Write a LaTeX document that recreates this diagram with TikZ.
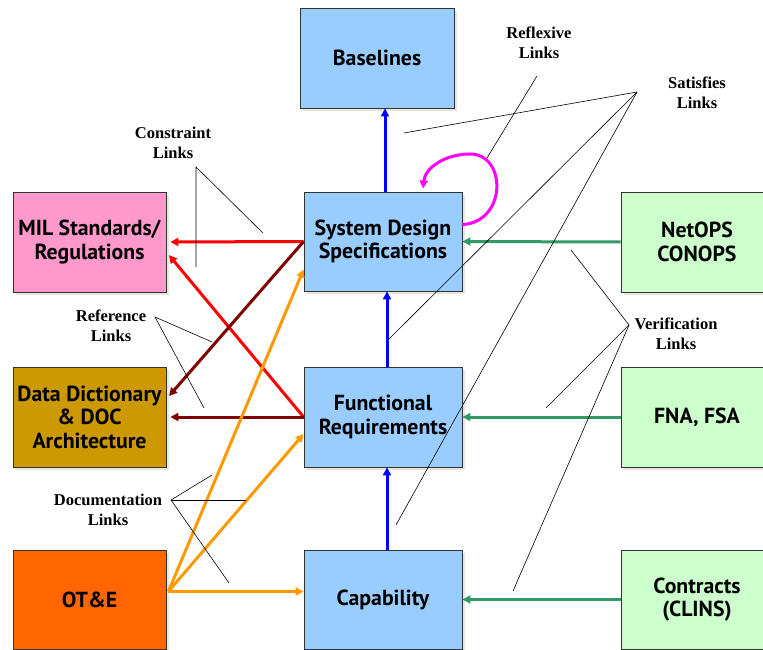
\documentclass[tikz,border=0pt]{standalone}
\usepackage{fontspec}
\newfontfamily\boxfont{PT Sans}
\newfontfamily\labfont{Liberation Serif}
\usetikzlibrary{arrows.meta,shadows}
\definecolor{bluefill}{HTML}{99CCFF}
\definecolor{pinkfill}{HTML}{FF99CC}
\definecolor{goldfill}{HTML}{CC9900}
\definecolor{orangefill}{HTML}{FF6600}
\definecolor{greenfill}{HTML}{CCFFCC}
\definecolor{boxborder}{HTML}{333333}
\definecolor{shadowcol}{HTML}{E8E5DA}
\definecolor{linkblue}{HTML}{0000FF}
\definecolor{linkred}{HTML}{FF0000}
\definecolor{linkdark}{HTML}{800000}
\definecolor{linkorange}{HTML}{FF9900}
\definecolor{linkgreen}{HTML}{339966}
\definecolor{linkmag}{HTML}{FF00FF}
\begin{document}
\begin{tikzpicture}[x=1pt,y=-1pt,
  box/.style={draw=boxborder, line width=0.8pt, minimum width=153pt, minimum height=100pt,
    inner sep=0pt, align=center, text=black,
    font=\boxfont\bfseries\fontsize{21.8}{23.5}\selectfont,
    drop shadow={shadow xshift=3pt, shadow yshift=-3pt, fill=shadowcol, opacity=1, draw=none}},
  lab/.style={align=center, inner sep=0pt, font=\labfont\bfseries\fontsize{16.5}{20}\selectfont},
  link/.style={line width=3pt, -{Triangle[length=8pt,width=8pt]}},
  callout/.style={line width=0.6pt, draw=black}]
\useasboundingbox (0,0) rectangle (763,650);

% boxes
\node[box, fill=bluefill, minimum width=154pt] (base) at (377,58) {Baselines};
\node[box, fill=bluefill, minimum width=158pt, minimum height=99pt] (sds) at (383,241.5) {System Design\\Specifications};
\node[box, fill=pinkfill] (mil) at (89.5,242) {MIL Standards/\\Regulations};
\node[box, fill=greenfill, minimum width=152pt] (netops) at (697,242) {NetOPS\\CONOPS};
\node[box, fill=goldfill] (dd) at (89.5,417) {Data Dictionary\\\& DOC\\Architecture};
\node[box, fill=bluefill, minimum width=158pt] (fr) at (383,417) {Functional\\Requirements};
\node[box, fill=greenfill, minimum width=152pt] (fna) at (697,417) {FNA, FSA};
\node[box, fill=orangefill, minimum height=99pt] (ote) at (89.5,599.5) {OT\&E};
\node[box, fill=bluefill, minimum width=158pt, minimum height=99pt] (cap) at (383,599.5) {Capability};
\node[box, fill=greenfill, minimum width=152pt, minimum height=99pt] (con) at (697,599.5) {Contracts\\(CLINS)};

% blue links
\draw[link, linkblue] ([xshift=2pt]sds.north) -- ([xshift=2pt]sds.north |- base.south);
\draw[link, linkblue] ([xshift=4pt]fr.north) -- ([xshift=4pt]fr.north |- sds.south);
\draw[link, linkblue] ([xshift=4pt]cap.north) -- ([xshift=4pt]cap.north |- fr.south);

% reflexive
\draw[line width=3pt, linkmag, -{Triangle[length=8pt,width=8pt]}]
  ([yshift=-33pt]sds.north east) .. controls (507,222) and (507,154) .. (470,154)
  .. controls (445,154) and (425,168) .. ([xshift=40pt,yshift=3pt]sds.north);

% constraint / reference links
\draw[link, linkred, shorten >=4pt] (sds.west) -- (mil.east);
\draw[link, linkred, shorten >=4pt] (fr.west) -- ([yshift=-10pt]mil.east);
\draw[link, linkdark, shorten >=4pt] (sds.west) -- ([yshift=18pt]dd.east);
\draw[link, linkdark, shorten >=4pt] (fr.west) -- (dd.east);

% documentation links
\coordinate (otestart) at ([xshift=2pt,yshift=8pt]ote.east);
\draw[link, linkorange] (otestart) -- ([yshift=-28pt]sds.west);
\draw[link, linkorange] (otestart) -- ([yshift=-17pt]fr.west);
\draw[link, linkorange] (otestart) -- ([yshift=8pt]cap.west);

% verification links
\draw[link, linkgreen] (netops.west) -- (sds.east);
\draw[link, linkgreen] (fna.west) -- (fr.east);
\draw[link, linkgreen] (con.west) -- (cap.east);

% labels
\node[lab] (lcon) at (173,143) {Constraint\\Links};
\node[lab] (lref) at (111,326) {Reference\\Links};
\node[lab] (ldoc) at (108,510) {Documentation\\Links};
\node[lab] (lrfx) at (539,43) {Reflexive\\Links};
\node[lab] (lsat) at (697,93) {Satisfies\\Links};
\node[lab] (lver) at (676,334) {Verification\\Links};

% callout lines
\coordinate (cA) at (196,167);
\coordinate (cA1) at (196,267);
\coordinate (cA2) at (263,233);
\draw[callout] (cA1) -- (cA) -- (cA2);

\coordinate (rA) at (155,317);
\coordinate (rA1) at (212,342);
\coordinate (rA2) at (204,408);
\draw[callout] (rA1) -- (rA) -- (rA2);

\coordinate (dA) at (171,500);
\coordinate (dA1) at (212,475);
\coordinate (dA2) at (246,500);
\coordinate (dA3) at (229,583);
\draw[callout] (dA) -- (dA1);
\draw[callout] (dA) -- (dA2);
\draw[callout] (dA) -- (dA3);

\coordinate (xA) at (537,76);
\coordinate (xA1) at (487,158);
\draw[callout] (xA) -- (xA1);

\coordinate (sA) at (637,92);
\coordinate (sA1) at (404,133);
\coordinate (sA2) at (387,341);
\coordinate (sA3) at (396,525);
\draw[callout] (sA) -- (sA1);
\draw[callout] (sA) -- (sA2);
\draw[callout] (sA) -- (sA3);

\coordinate (vA) at (629,325);
\coordinate (vA1) at (571,250);
\coordinate (vA2) at (546,408);
\coordinate (vA3) at (513,591);
\draw[callout] (vA) -- (vA1);
\draw[callout] (vA) -- (vA2);
\draw[callout] (vA) -- (vA3);
\end{tikzpicture}
\end{document}
